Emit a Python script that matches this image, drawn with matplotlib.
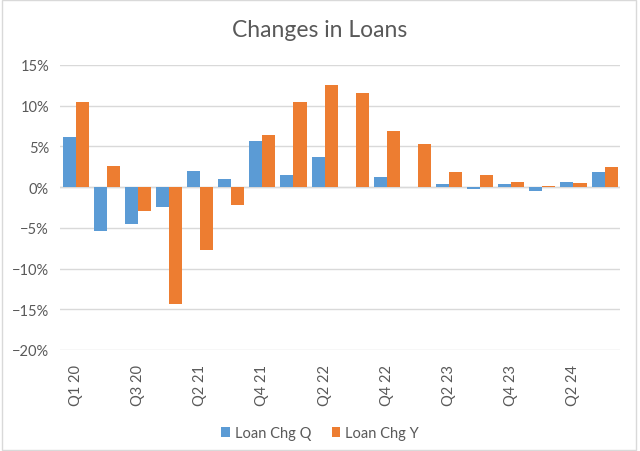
import matplotlib.pyplot as plt
import numpy as np
from matplotlib.ticker import PercentFormatter

# quarterly categories (only every other label is drawn, like the source chart)
quarters = ['Q1 20', 'Q2 20', 'Q3 20', 'Q4 20', 'Q2 21', 'Q3 21', 'Q4 21', 'Q1 22', 'Q2 22',
            'Q3 22', 'Q4 22', 'Q1 23', 'Q2 23', 'Q3 23', 'Q4 23', 'Q1 24', 'Q2 24', 'Q3 24']
loan_chg_q = [6.2, -5.4, -4.5, -2.5, 1.95, 1.0, 5.65, 1.45, 3.75,
              0.05, 1.2, 0.0, 0.4, -0.25, 0.4, -0.45, 0.65, 1.8]
loan_chg_y = [10.5, 2.55, -2.95, -14.4, -7.7, -2.25, 6.35, 10.5, 12.55,
              11.5, 6.85, 5.35, 1.85, 1.5, 0.65, 0.2, 0.45, 2.5]

BLUE = '#5B9BD5'
ORANGE = '#ED7D31'
GREY = '#595959'

plt.rcParams['font.family'] = ['Lato', 'DejaVu Sans']

fig = plt.figure(figsize=(6.4, 4.52), dpi=100)
ax = fig.add_axes([0.094, 0.2235, 0.875, 0.6305])

x = np.arange(len(quarters))
w = 0.42
ax.bar(x - w / 2, loan_chg_q, width=w, color=BLUE, label='Loan Chg Q', zorder=3)
ax.bar(x + w / 2, loan_chg_y, width=w, color=ORANGE, label='Loan Chg Y', zorder=3)

ax.set_xlim(-0.5, len(quarters) - 0.5)
ax.set_ylim(-20, 15)
ax.set_yticks(np.arange(-20, 16, 5))
ax.yaxis.set_major_formatter(PercentFormatter(decimals=0))
ax.grid(axis='y', color='#D9D9D9', linewidth=1, zorder=0)
ax.axhline(0, color='#D9D9D9', linewidth=1, zorder=2)

ax.set_xticks(x[::2])
ax.set_xticklabels(quarters[::2], rotation=90)
ax.tick_params(axis='both', length=0, colors=GREY, labelsize=10.5)
ax.tick_params(axis='x', pad=10)
ax.tick_params(axis='y', pad=8)
for s in ax.spines.values():
    s.set_visible(False)

fig.suptitle('Changes in Loans', y=0.955, fontsize=16.5, color=GREY)

fig.legend(loc='lower center', bbox_to_anchor=(0.5, -0.005), ncol=2, frameon=False,
           fontsize=10.5, labelcolor=GREY, handlelength=0.6, handleheight=0.6,
           handletextpad=0.35, columnspacing=1.4)

# light chart frame like the Excel export
fig.patches.append(plt.Rectangle((0.003, 0.003), 0.99, 0.994, transform=fig.transFigure,
                                 fill=False, edgecolor='#D9D9D9', linewidth=1))

fig.savefig('out.png', dpi=100)
